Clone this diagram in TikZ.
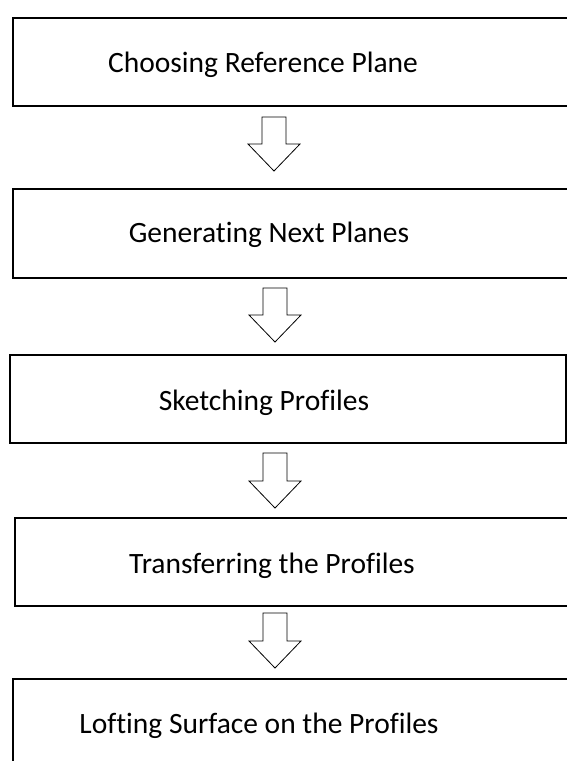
\documentclass[tikz,border=0pt]{standalone}
\usepackage{fontspec}
\setmainfont[Ligatures=NoCommon]{Carlito}
\begin{document}
\begin{tikzpicture}[x=1pt,y=-1pt,
  stepbox/.style={draw=black,line width=2pt,anchor=north west,inner sep=0pt},
  steptext/.style={anchor=base,inner sep=0pt,font=\fontsize{29.5}{34}\selectfont},
  blockarrow/.style={draw=black,line width=0.8pt,fill=white,line join=miter}]
\useasboundingbox (0,0) rectangle (567,761);
\clip (0,0) rectangle (567,761);
\node[stepbox,minimum width=570pt,minimum height=88pt] (b1) at (12,17) {};
\node[stepbox,minimum width=570pt,minimum height=89pt] (b2) at (12,188) {};
\node[stepbox,minimum width=556pt,minimum height=88pt] (b3) at (9,354) {};
\node[stepbox,minimum width=570pt,minimum height=88pt] (b4) at (14,517) {};
\node[stepbox,minimum width=570pt,minimum height=100pt] (b5) at (12,678) {};
\node[steptext] (t1) at (263,72) {Choosing Reference Plane};
\node[steptext] (t2) at (269,242) {Generating Next Planes};
\node[steptext] (t3) at (264,410) {Sketching Profiles};
\node[steptext] (t4) at (272,573) {Transferring the Profiles};
\node[steptext] (t5) at (259,733) {Lofting Surface on the Profiles};
\coordinate (a1) at (274,117);
\coordinate (a2) at (275,288);
\coordinate (a3) at (275,453);
\coordinate (a4) at (275,613);
\foreach \a/\h in {a1/27,a2/27,a3/28,a4/28}{
  \draw[blockarrow] (\a) ++(-12,0) -- ++(0,\h) -- ++(-14,0) -- ++(26,27) -- ++(26,-27) -- ++(-14,0) -- ++(0,-\h) -- cycle;
}
\end{tikzpicture}
\end{document}
